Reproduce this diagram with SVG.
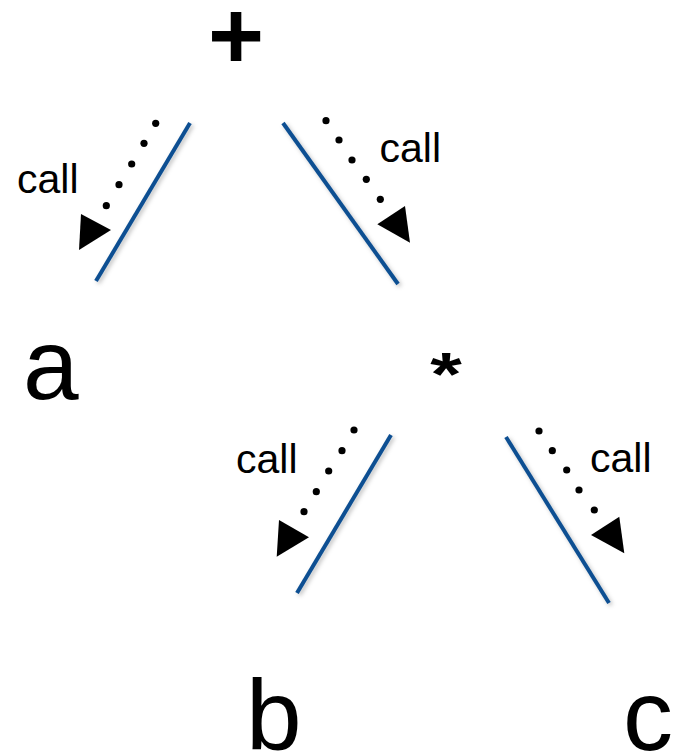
<svg xmlns="http://www.w3.org/2000/svg" width="675" height="756" viewBox="0 0 675 756">
<style>
.sym{font-family:"Liberation Sans",Arial,sans-serif;fill:#000}
.big{font-size:100px}
.lbl{font-family:"Liberation Sans",Arial,sans-serif;font-size:41px;fill:#000}
.edge{stroke:#0E4F92;stroke-width:4;fill:none;filter:url(#sh)}
.dot{fill:#000}
.head{fill:#000}
</style>
<defs>
<filter id="sh" x="-20%" y="-20%" width="140%" height="140%">
<feDropShadow dx="2" dy="2" stdDeviation="2" flood-color="#000" flood-opacity="0.25"/>
</filter>
</defs>
<rect width="675" height="756" fill="#fff"/>
<g id="node-plus"><text class="sym" x="236" y="69" font-size="96" font-weight="bold" text-anchor="middle">+</text></g>
<g id="node-a"><text class="sym big" x="23" y="399">a</text></g>
<g id="node-star"><text class="sym" transform="translate(446,395) scale(1,0.75)" font-size="81" font-weight="bold" text-anchor="middle">*</text></g>
<g id="node-b"><text class="sym big" x="246" y="750">b</text></g>
<g id="node-c"><text class="sym big" x="623" y="750">c</text></g>
<g id="connectors">
<line class="edge" x1="190" y1="123" x2="96" y2="281"/>
<line class="edge" x1="283" y1="123" x2="398" y2="284"/>
<line class="edge" x1="391" y1="435" x2="297" y2="593"/>
<line class="edge" x1="506" y1="437" x2="609" y2="603"/>
<g id="call-1">
<circle class="dot" cx="155.7" cy="123.3" r="3.6"/><circle class="dot" cx="144" cy="143.3" r="3.6"/><circle class="dot" cx="131.7" cy="164" r="3.6"/><circle class="dot" cx="119" cy="184.7" r="3.6"/><circle class="dot" cx="106.3" cy="205.7" r="3.6"/>
<polygon class="head" points="81,214 111,230 79,250"/>
<text class="lbl" x="17" y="193">call</text>
</g>
<g id="call-2">
<circle class="dot" cx="326" cy="120.7" r="3.6"/><circle class="dot" cx="339" cy="140" r="3.6"/><circle class="dot" cx="352" cy="160" r="3.6"/><circle class="dot" cx="366.3" cy="179.3" r="3.6"/><circle class="dot" cx="380.3" cy="199.3" r="3.6"/>
<polygon class="head" points="405,206 377.3,224.3 410,242.7"/>
<text class="lbl" x="379.5" y="162">call</text>
</g>
<g id="call-3">
<circle class="dot" cx="354" cy="430" r="3.6"/><circle class="dot" cx="342" cy="450.7" r="3.6"/><circle class="dot" cx="328.7" cy="471" r="3.6"/><circle class="dot" cx="316.3" cy="491.7" r="3.6"/><circle class="dot" cx="304" cy="511.7" r="3.6"/>
<polygon class="head" points="279,520 309,537.3 276.7,556.7"/>
<text class="lbl" x="236" y="473">call</text>
</g>
<g id="call-4">
<circle class="dot" cx="539" cy="431" r="3.6"/><circle class="dot" cx="552.3" cy="450.7" r="3.6"/><circle class="dot" cx="566.7" cy="470" r="3.6"/><circle class="dot" cx="579" cy="490" r="3.6"/><circle class="dot" cx="594.3" cy="510" r="3.6"/>
<polygon class="head" points="619.3,516.7 591,535 624.3,553.3"/>
<text class="lbl" x="590" y="472">call</text>
</g>
</g>
</svg>
